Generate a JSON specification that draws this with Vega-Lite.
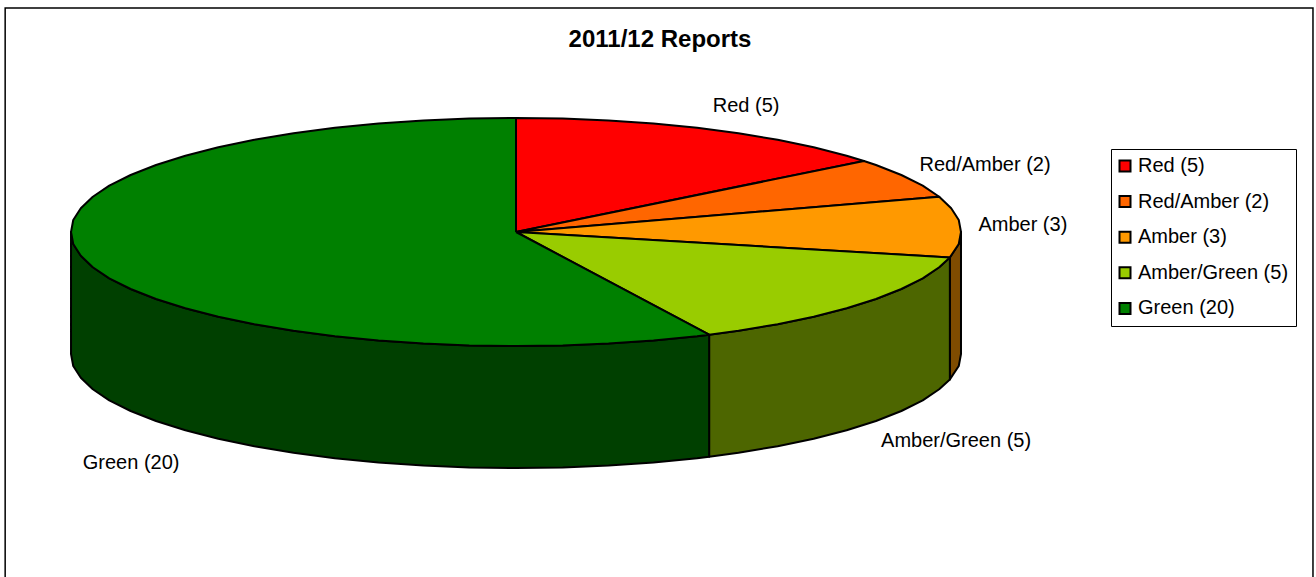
{
  "$schema": "https://vega.github.io/schema/vega-lite/v6.json",
  "autosize": {"type": "fit", "contains": "padding"},
  "width": 1316,
  "height": 577,
  "padding": 0,
  "background": "white",
  "title": {
    "text": "2011/12 Reports",
    "font": "Liberation Sans",
    "fontSize": 24,
    "fontWeight": "bold",
    "color": "black",
    "anchor": "middle",
    "frame": "group",
    "offset": -52,
    "dx": 2
  },
  "config": {"view": {"stroke": null}},
  "datasets": {
    "frame": [{"x": -1.148, "x2": 1.791, "y": 1.965, "y2": -3.2}],
    "wall": [
      {"slice": "Amber (3)", "x": 1, "y": 0, "y2": -1.07},
      {"slice": "Amber (3)", "x": 0.995, "y": -0.105, "y2": -1.175},
      {"slice": "Amber (3)", "x": 0.975, "y": -0.223, "y2": -1.293},
      {"slice": "Amber/Green (5)", "x": 0.975, "y": -0.223, "y2": -1.293},
      {"slice": "Amber/Green (5)", "x": 0.951, "y": -0.309, "y2": -1.379},
      {"slice": "Amber/Green (5)", "x": 0.914, "y": -0.407, "y2": -1.477},
      {"slice": "Amber/Green (5)", "x": 0.866, "y": -0.5, "y2": -1.57},
      {"slice": "Amber/Green (5)", "x": 0.809, "y": -0.588, "y2": -1.658},
      {"slice": "Amber/Green (5)", "x": 0.743, "y": -0.669, "y2": -1.739},
      {"slice": "Amber/Green (5)", "x": 0.669, "y": -0.743, "y2": -1.813},
      {"slice": "Amber/Green (5)", "x": 0.588, "y": -0.809, "y2": -1.879},
      {"slice": "Amber/Green (5)", "x": 0.5, "y": -0.866, "y2": -1.936},
      {"slice": "Amber/Green (5)", "x": 0.434, "y": -0.901, "y2": -1.971},
      {"slice": "Green (20)", "x": 0.434, "y": -0.901, "y2": -1.971},
      {"slice": "Green (20)", "x": 0.407, "y": -0.914, "y2": -1.984},
      {"slice": "Green (20)", "x": 0.309, "y": -0.951, "y2": -2.021},
      {"slice": "Green (20)", "x": 0.208, "y": -0.978, "y2": -2.048},
      {"slice": "Green (20)", "x": 0.105, "y": -0.995, "y2": -2.065},
      {"slice": "Green (20)", "x": 0, "y": -1, "y2": -2.07},
      {"slice": "Green (20)", "x": -0.105, "y": -0.995, "y2": -2.065},
      {"slice": "Green (20)", "x": -0.208, "y": -0.978, "y2": -2.048},
      {"slice": "Green (20)", "x": -0.309, "y": -0.951, "y2": -2.021},
      {"slice": "Green (20)", "x": -0.407, "y": -0.914, "y2": -1.984},
      {"slice": "Green (20)", "x": -0.5, "y": -0.866, "y2": -1.936},
      {"slice": "Green (20)", "x": -0.588, "y": -0.809, "y2": -1.879},
      {"slice": "Green (20)", "x": -0.669, "y": -0.743, "y2": -1.813},
      {"slice": "Green (20)", "x": -0.743, "y": -0.669, "y2": -1.739},
      {"slice": "Green (20)", "x": -0.809, "y": -0.588, "y2": -1.658},
      {"slice": "Green (20)", "x": -0.866, "y": -0.5, "y2": -1.57},
      {"slice": "Green (20)", "x": -0.914, "y": -0.407, "y2": -1.477},
      {"slice": "Green (20)", "x": -0.951, "y": -0.309, "y2": -1.379},
      {"slice": "Green (20)", "x": -0.978, "y": -0.208, "y2": -1.278},
      {"slice": "Green (20)", "x": -0.995, "y": -0.105, "y2": -1.175},
      {"slice": "Green (20)", "x": -1, "y": 0, "y2": -1.07}
    ],
    "top": [
      {"slice": "Red (5)", "n": 0, "x": 0, "y": 0},
      {"slice": "Red (5)", "n": 1, "x": 0, "y": 1},
      {"slice": "Red (5)", "n": 2, "x": 0.105, "y": 0.995},
      {"slice": "Red (5)", "n": 3, "x": 0.208, "y": 0.978},
      {"slice": "Red (5)", "n": 4, "x": 0.309, "y": 0.951},
      {"slice": "Red (5)", "n": 5, "x": 0.407, "y": 0.914},
      {"slice": "Red (5)", "n": 6, "x": 0.5, "y": 0.866},
      {"slice": "Red (5)", "n": 7, "x": 0.588, "y": 0.809},
      {"slice": "Red (5)", "n": 8, "x": 0.669, "y": 0.743},
      {"slice": "Red (5)", "n": 9, "x": 0.743, "y": 0.669},
      {"slice": "Red (5)", "n": 10, "x": 0.782, "y": 0.623},
      {"slice": "Red (5)", "n": 11, "x": 0, "y": 0},
      {"slice": "Red/Amber (2)", "n": 0, "x": 0, "y": 0},
      {"slice": "Red/Amber (2)", "n": 1, "x": 0.782, "y": 0.623},
      {"slice": "Red/Amber (2)", "n": 2, "x": 0.809, "y": 0.588},
      {"slice": "Red/Amber (2)", "n": 3, "x": 0.866, "y": 0.5},
      {"slice": "Red/Amber (2)", "n": 4, "x": 0.914, "y": 0.407},
      {"slice": "Red/Amber (2)", "n": 5, "x": 0.951, "y": 0.309},
      {"slice": "Red/Amber (2)", "n": 6, "x": 0, "y": 0},
      {"slice": "Amber (3)", "n": 0, "x": 0, "y": 0},
      {"slice": "Amber (3)", "n": 1, "x": 0.951, "y": 0.309},
      {"slice": "Amber (3)", "n": 2, "x": 0.978, "y": 0.208},
      {"slice": "Amber (3)", "n": 3, "x": 0.995, "y": 0.105},
      {"slice": "Amber (3)", "n": 4, "x": 1, "y": 0},
      {"slice": "Amber (3)", "n": 5, "x": 0.995, "y": -0.105},
      {"slice": "Amber (3)", "n": 6, "x": 0.975, "y": -0.223},
      {"slice": "Amber (3)", "n": 7, "x": 0, "y": 0},
      {"slice": "Amber/Green (5)", "n": 0, "x": 0, "y": 0},
      {"slice": "Amber/Green (5)", "n": 1, "x": 0.975, "y": -0.223},
      {"slice": "Amber/Green (5)", "n": 2, "x": 0.951, "y": -0.309},
      {"slice": "Amber/Green (5)", "n": 3, "x": 0.914, "y": -0.407},
      {"slice": "Amber/Green (5)", "n": 4, "x": 0.866, "y": -0.5},
      {"slice": "Amber/Green (5)", "n": 5, "x": 0.809, "y": -0.588},
      {"slice": "Amber/Green (5)", "n": 6, "x": 0.743, "y": -0.669},
      {"slice": "Amber/Green (5)", "n": 7, "x": 0.669, "y": -0.743},
      {"slice": "Amber/Green (5)", "n": 8, "x": 0.588, "y": -0.809},
      {"slice": "Amber/Green (5)", "n": 9, "x": 0.5, "y": -0.866},
      {"slice": "Amber/Green (5)", "n": 10, "x": 0.434, "y": -0.901},
      {"slice": "Amber/Green (5)", "n": 11, "x": 0, "y": 0},
      {"slice": "Green (20)", "n": 0, "x": 0, "y": 0},
      {"slice": "Green (20)", "n": 1, "x": 0.434, "y": -0.901},
      {"slice": "Green (20)", "n": 2, "x": 0.407, "y": -0.914},
      {"slice": "Green (20)", "n": 3, "x": 0.309, "y": -0.951},
      {"slice": "Green (20)", "n": 4, "x": 0.208, "y": -0.978},
      {"slice": "Green (20)", "n": 5, "x": 0.105, "y": -0.995},
      {"slice": "Green (20)", "n": 6, "x": 0, "y": -1},
      {"slice": "Green (20)", "n": 7, "x": -0.105, "y": -0.995},
      {"slice": "Green (20)", "n": 8, "x": -0.208, "y": -0.978},
      {"slice": "Green (20)", "n": 9, "x": -0.309, "y": -0.951},
      {"slice": "Green (20)", "n": 10, "x": -0.407, "y": -0.914},
      {"slice": "Green (20)", "n": 11, "x": -0.5, "y": -0.866},
      {"slice": "Green (20)", "n": 12, "x": -0.588, "y": -0.809},
      {"slice": "Green (20)", "n": 13, "x": -0.669, "y": -0.743},
      {"slice": "Green (20)", "n": 14, "x": -0.743, "y": -0.669},
      {"slice": "Green (20)", "n": 15, "x": -0.809, "y": -0.588},
      {"slice": "Green (20)", "n": 16, "x": -0.866, "y": -0.5},
      {"slice": "Green (20)", "n": 17, "x": -0.914, "y": -0.407},
      {"slice": "Green (20)", "n": 18, "x": -0.951, "y": -0.309},
      {"slice": "Green (20)", "n": 19, "x": -0.978, "y": -0.208},
      {"slice": "Green (20)", "n": 20, "x": -0.995, "y": -0.105},
      {"slice": "Green (20)", "n": 21, "x": -1, "y": 0},
      {"slice": "Green (20)", "n": 22, "x": -0.995, "y": 0.105},
      {"slice": "Green (20)", "n": 23, "x": -0.978, "y": 0.208},
      {"slice": "Green (20)", "n": 24, "x": -0.951, "y": 0.309},
      {"slice": "Green (20)", "n": 25, "x": -0.914, "y": 0.407},
      {"slice": "Green (20)", "n": 26, "x": -0.866, "y": 0.5},
      {"slice": "Green (20)", "n": 27, "x": -0.809, "y": 0.588},
      {"slice": "Green (20)", "n": 28, "x": -0.743, "y": 0.669},
      {"slice": "Green (20)", "n": 29, "x": -0.669, "y": 0.743},
      {"slice": "Green (20)", "n": 30, "x": -0.588, "y": 0.809},
      {"slice": "Green (20)", "n": 31, "x": -0.5, "y": 0.866},
      {"slice": "Green (20)", "n": 32, "x": -0.407, "y": 0.914},
      {"slice": "Green (20)", "n": 33, "x": -0.309, "y": 0.951},
      {"slice": "Green (20)", "n": 34, "x": -0.208, "y": 0.978},
      {"slice": "Green (20)", "n": 35, "x": -0.105, "y": 0.995},
      {"slice": "Green (20)", "n": 36, "x": 0, "y": 1},
      {"slice": "Green (20)", "n": 37, "x": 0, "y": 0}
    ],
    "labels": [
      {"label": "Red (5)", "x": 0.517, "y": 1.105},
      {"label": "Red/Amber (2)", "x": 1.054, "y": 0.587},
      {"label": "Amber (3)", "x": 1.139, "y": 0.061},
      {"label": "Amber/Green (5)", "x": 0.989, "y": -1.834},
      {"label": "Green (20)", "x": -0.865, "y": -2.027}
    ]
  },
  "layer": [
    {
      "data": {"name": "frame"},
      "mark": {"type": "rect", "fill": "white", "stroke": "black", "strokeWidth": 1.5, "clip": true},
      "encoding": {
        "x": {"field": "x", "type": "quantitative", "axis": null, "scale": {"domain": [-1.1596, 1.7978], "nice": false, "zero": false}},
        "x2": {"field": "x2"},
        "y": {"field": "y", "type": "quantitative", "axis": null, "scale": {"domain": [-3.0263, 2.0351], "nice": false, "zero": false}},
        "y2": {"field": "y2"}
      }
    },
    {
      "data": {"name": "wall"},
      "mark": {"type": "area", "orient": "vertical", "stroke": "black", "strokeWidth": 2, "strokeJoin": "round"},
      "encoding": {
        "x": {"field": "x", "type": "quantitative"},
        "y": {"field": "y", "type": "quantitative"},
        "y2": {"field": "y2"},
        "fill": {
          "field": "slice",
          "type": "nominal",
          "legend": null,
          "scale": {
            "domain": ["Amber (3)", "Amber/Green (5)", "Green (20)"],
            "range": ["#7f4c00", "#4d6600", "#004000"]
          }
        }
      }
    },
    {
      "data": {"name": "top"},
      "mark": {"type": "line", "filled": true, "stroke": "black", "strokeWidth": 2, "strokeJoin": "round"},
      "encoding": {
        "x": {"field": "x", "type": "quantitative"},
        "y": {"field": "y", "type": "quantitative"},
        "order": {"field": "n", "type": "quantitative"},
        "detail": {"field": "slice", "type": "nominal"},
        "fill": {
          "field": "slice",
          "type": "nominal",
          "scale": {
            "domain": ["Red (5)", "Red/Amber (2)", "Amber (3)", "Amber/Green (5)", "Green (20)"],
            "range": ["#ff0000", "#ff6600", "#ff9900", "#99cc00", "#008000"]
          },
          "legend": {
            "title": null,
            "orient": "none",
            "legendX": 1111,
            "legendY": 149,
            "padding": 7,
            "fillColor": "white",
            "strokeColor": "black",
            "symbolType": "square",
            "symbolSize": 121,
            "symbolOffset": -3,
            "symbolStrokeColor": "black",
            "symbolStrokeWidth": 2,
            "labelFont": "Liberation Sans",
            "labelFontSize": 20,
            "labelColor": "black",
            "labelOffset": 3,
            "rowPadding": 15.6
          }
        }
      }
    },
    {
      "data": {"name": "labels"},
      "mark": {"type": "text", "font": "Liberation Sans", "fontSize": 20, "color": "black", "align": "center", "baseline": "middle"},
      "encoding": {
        "x": {"field": "x", "type": "quantitative"},
        "y": {"field": "y", "type": "quantitative"},
        "text": {"field": "label", "type": "nominal"}
      }
    }
  ],
  "resolve": {"scale": {"fill": "independent"}}
}
